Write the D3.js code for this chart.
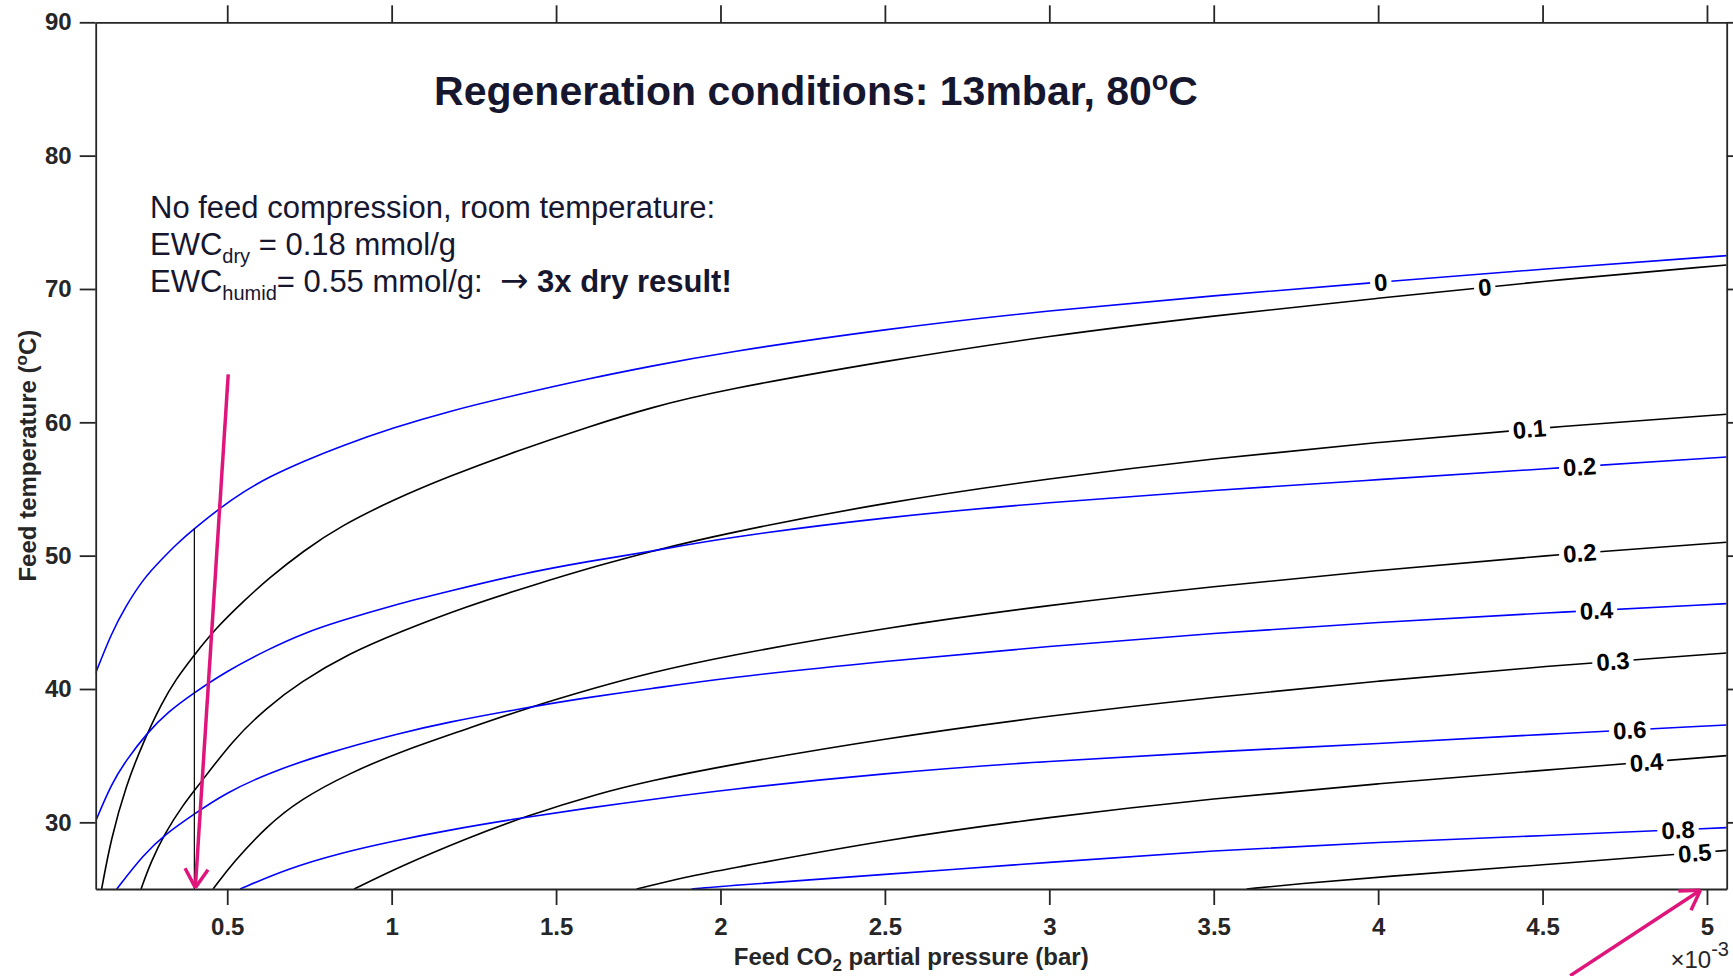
<!DOCTYPE html>
<html lang="en">
  <head>
    <meta charset="utf-8" />
    <script type="text/javascript" src="https://cdn.jsdelivr.net/npm/d3@7"></script>
    <style>
      body { margin: 0; background: #fff; }
      text { font-family: "Liberation Sans", Arial, Helvetica, sans-serif; white-space: pre; }
    </style>
  </head>

  <body>
    <script type="text/javascript">
      let w = 1733;
      let h = 976;

      // axis ranges and ticks (x is in units of 1e-3 bar)
      let xDomain = [0.1, 5.06];
      let yDomain = [25, 90];
      let xTicks = [0.5, 1, 1.5, 2, 2.5, 3, 3.5, 4, 4.5, 5];
      let yTicks = [30, 40, 50, 60, 70, 80, 90];

      // black contours (dry) as [x, T]
      let black0 = [[0.118, 25], [0.146, 28.7], [0.191, 32.7], [0.246, 36.1], [0.3, 38.9], [0.343, 40.7], [0.398, 42.5], [0.463, 44.5], [0.55, 46.6], [0.626, 48.3], [0.734, 50.4], [0.843, 52.2], [1.006, 54.2], [1.169, 55.9], [1.386, 57.9], [1.603, 59.7], [1.786, 61.1], [2.0, 62.4], [2.5, 64.6], [3.0, 66.5], [3.5, 68.0], [4.0, 69.3], [4.5, 70.6], [5.06, 71.8]];
      let black1 = [[0.238, 25], [0.267, 27.0], [0.311, 29.2], [0.365, 31.3], [0.417, 32.9], [0.518, 36.2], [0.62, 38.6], [0.721, 40.5], [0.873, 42.7], [1.026, 44.3], [1.228, 46.2], [1.431, 47.8], [1.634, 49.3], [1.786, 50.3], [2.0, 51.6], [2.5, 54.0], [3.0, 55.8], [3.5, 57.3], [4.0, 58.5], [4.5, 59.6], [5.06, 60.6]];
      let black2 = [[0.457, 25], [0.518, 27.0], [0.62, 29.7], [0.721, 31.7], [0.873, 33.7], [1.026, 35.3], [1.228, 37.0], [1.39, 38.4], [1.634, 40.2], [1.786, 41.2], [2.0, 42.4], [2.5, 44.6], [3.0, 46.3], [3.5, 47.7], [4.0, 48.9], [4.5, 50.0], [5.06, 51.0]];
      let black3 = [[0.886, 25], [1.026, 26.7], [1.228, 28.8], [1.4, 30.4], [1.634, 32.2], [1.786, 33.1], [2.0, 34.2], [2.5, 36.3], [3.0, 38.0], [3.5, 39.4], [4.0, 40.6], [4.5, 41.7], [5.06, 42.7]];
      let black4 = [[1.745, 25], [1.912, 26.0], [2.0, 26.4], [2.5, 28.7], [3.0, 30.4], [3.5, 31.8], [4.0, 32.9], [4.5, 33.9], [5.06, 35.0]];
      let black5 = [[3.6, 25], [3.759, 25.4], [4.0, 25.9], [4.5, 26.8], [5.06, 27.9]];

      // blue contours (humid)
      let blue0 = [[0.1, 41.2], [0.148, 44.2], [0.191, 46.2], [0.246, 48.3], [0.3, 49.7], [0.343, 50.8], [0.398, 52.0], [0.485, 53.7], [0.55, 54.8], [0.626, 55.9], [0.734, 57.1], [0.843, 58.2], [1.006, 59.6], [1.169, 60.8], [1.386, 62.1], [1.603, 63.3], [1.786, 64.2], [2.0, 65.2], [2.5, 67.0], [3.0, 68.4], [3.5, 69.5], [4.0, 70.5], [4.5, 71.5], [5.06, 72.5]];
      let blue2 = [[0.1, 30.1], [0.148, 32.9], [0.191, 34.6], [0.256, 36.7], [0.32, 38.3], [0.398, 39.7], [0.495, 41.3], [0.626, 43.0], [0.734, 44.2], [0.843, 45.1], [1.006, 46.3], [1.169, 47.3], [1.386, 48.6], [1.603, 49.6], [1.786, 50.3], [2.0, 51.3], [2.5, 52.9], [3.0, 54.0], [3.5, 54.9], [4.0, 55.7], [4.5, 56.5], [5.06, 57.4]];
      let blue4 = [[0.164, 25], [0.246, 27.6], [0.311, 29.1], [0.398, 30.6], [0.495, 32.2], [0.626, 33.7], [0.789, 35.1], [1.026, 36.7], [1.169, 37.5], [1.386, 38.5], [1.603, 39.4], [1.786, 40.0], [2.0, 40.8], [2.5, 42.1], [3.0, 43.2], [3.5, 44.2], [4.0, 45.0], [4.5, 45.7], [5.06, 46.4]];
      let blue6 = [[0.539, 25], [0.68, 26.5], [0.843, 27.7], [1.006, 28.6], [1.169, 29.4], [1.386, 30.3], [1.603, 31.1], [1.786, 31.7], [2.0, 32.4], [2.5, 33.7], [3.0, 34.6], [3.5, 35.3], [4.0, 35.9], [4.5, 36.6], [5.06, 37.3]];
      let blue8 = [[1.912, 25], [2.0, 25.2], [2.5, 26.1], [3.0, 27.0], [3.5, 27.9], [4.0, 28.5], [4.5, 29.0], [5.06, 29.6]];

      // contour label texts and where along x they sit
      let blackLevels = ["0", "0.1", "0.2", "0.3", "0.4", "0.5"];
      let blackLabelX = [4.324, 4.46, 4.613, 4.714, 4.816, 4.963];
      let blueLevels = ["0", "0.2", "0.4", "0.6", "0.8"];
      let blueLabelX = [4.008, 4.613, 4.664, 4.765, 4.912];

      // annotations
      let guideX = 0.4;
      let arrowDown = [[0.503, 63.6], [0.403, 25.1]];
      let arrowCorner = [[4.584, 18.5], [4.98, 24.9]];

      let pLeft = 95.7, pRight = 1726.7, pTop = 22.3, pBottom = 889;
      let axisColor = "#262626";
      let textColor = "#16162e";
      let pink = "#e0157b";

      let x = d3.scaleLinear().domain(xDomain).range([pLeft, pRight]);
      let y = d3.scaleLinear().domain(yDomain).range([pBottom, pTop]);

      let svg = d3
        .select("body")
        .append("svg")
        .attr("width", w)
        .attr("height", h);

      let defs = svg.append("defs");
      defs
        .append("clipPath")
        .attr("id", "plotclip")
        .append("rect")
        .attr("x", pLeft)
        .attr("y", pTop)
        .attr("width", pRight - pLeft)
        .attr("height", pBottom - pTop);

      let series = [];
      [black0, black1, black2, black3, black4, black5].forEach((pts, i) => {
        series.push({ pts: pts, color: "#000", label: blackLevels[i], lx: blackLabelX[i] });
      });
      [blue0, blue2, blue4, blue6, blue8].forEach((pts, i) => {
        series.push({ pts: pts, color: "#0000ff", label: blueLevels[i], lx: blueLabelX[i] });
      });

      function interpY(pts, xv) {
        for (let i = 0; i < pts.length - 1; i++) {
          if (xv >= pts[i][0] && xv <= pts[i + 1][0]) {
            let t = (xv - pts[i][0]) / (pts[i + 1][0] - pts[i][0]);
            return pts[i][1] + t * (pts[i + 1][1] - pts[i][1]);
          }
        }
        return pts[pts.length - 1][1];
      }

      // basis spline smooths out the reading noise of the hand-read points
      let line = d3
        .line()
        .x((d) => x(d[0]))
        .y((d) => y(d[1]))
        .curve(d3.curveBasis);

      let plot = svg.append("g").attr("clip-path", "url(#plotclip)");

      plot
        .selectAll("path.contour")
        .data(series)
        .join("path")
        .attr("class", "contour")
        .attr("d", (d) => line(d.pts))
        .attr("fill", "none")
        .attr("stroke", (d) => d.color)
        .attr("stroke-width", 1.6)
        .attr("mask", (d, i) => "url(#gap" + i + ")");

      // thin guide line from the axis up to the humid 0 contour
      plot
        .append("line")
        .attr("x1", x(guideX))
        .attr("x2", x(guideX))
        .attr("y1", y(yDomain[0]))
        .attr("y2", y(interpY(blue0, guideX)))
        .attr("stroke", "#000")
        .attr("stroke-width", 1.2);

      // inline contour labels
      let labels = svg
        .selectAll("text.clabel")
        .data(series)
        .join("text")
        .attr("class", "clabel")
        .text((d) => d.label)
        .attr("text-anchor", "middle")
        .attr("dy", "0.36em")
        .attr("font-size", "24px")
        .attr("font-weight", "bold")
        .attr("fill", "#000")
        .attr("transform", (d) => {
          let px = x(d.lx), py = y(interpY(d.pts, d.lx));
          let a = Math.atan2(y(interpY(d.pts, d.lx + 0.05)) - y(interpY(d.pts, d.lx - 0.05)), x(d.lx + 0.05) - x(d.lx - 0.05));
          d.angle = (a * 180) / Math.PI;
          return "translate(" + px + "," + py + ") rotate(" + d.angle + ")";
        });

      labels.each(function (d) {
        d.len = this.getComputedTextLength();
      });

      series.forEach((d, i) => {
        let m = defs
          .append("mask")
          .attr("id", "gap" + i)
          .attr("maskUnits", "userSpaceOnUse")
          .attr("x", 0)
          .attr("y", 0)
          .attr("width", w)
          .attr("height", h);
        m.append("rect").attr("width", w).attr("height", h).attr("fill", "#fff");
        m.append("rect")
          .attr("x", -(d.len + 8) / 2)
          .attr("y", -10)
          .attr("width", d.len + 8)
          .attr("height", 20)
          .attr("fill", "#000")
          .attr("transform", "translate(" + x(d.lx) + "," + y(interpY(d.pts, d.lx)) + ") rotate(" + d.angle + ")");
      });

      // axes on all four sides, ticks pointing out
      let styleAxis = function (g) {
        g.attr("font-family", null).attr("font-size", null);
        g.selectAll("path.domain").attr("stroke", axisColor).attr("stroke-width", 1.8);
        g.selectAll(".tick line").attr("stroke", axisColor).attr("stroke-width", 1.8);
        g.selectAll(".tick text")
          .attr("fill", axisColor)
          .attr("font-size", "24px")
          .attr("font-weight", "bold");
      };

      svg.append("g")
        .attr("transform", "translate(0," + pBottom + ")")
        .call(d3.axisBottom(x).tickValues(xTicks).tickSize(16).tickPadding(13).tickSizeOuter(0).tickFormat(d3.format("~g")))
        .call(styleAxis);
      svg.append("g")
        .attr("transform", "translate(0," + pTop + ")")
        .call(d3.axisTop(x).tickValues(xTicks).tickSize(17).tickSizeOuter(0).tickFormat(() => ""))
        .call(styleAxis);
      svg.append("g")
        .attr("transform", "translate(" + pLeft + ",0)")
        .call(d3.axisLeft(y).tickValues(yTicks).tickSize(16).tickPadding(8).tickSizeOuter(0))
        .call(styleAxis);
      svg.append("g")
        .attr("transform", "translate(" + pRight + ",0)")
        .call(d3.axisRight(y).tickValues(yTicks).tickSize(16).tickSizeOuter(0).tickFormat(() => ""))
        .call(styleAxis);

      // pink arrows
      let drawArrow = function (pts) {
        let x0 = x(pts[0][0]), y0 = y(pts[0][1]);
        let x1 = x(pts[1][0]), y1 = y(pts[1][1]);
        let back = Math.atan2(y0 - y1, x0 - x1);
        let g = svg.append("g")
          .attr("stroke", pink)
          .attr("stroke-width", 3.5)
          .attr("fill", "none");
        g.append("line").attr("x1", x0).attr("y1", y0).attr("x2", x1).attr("y2", y1);
        [-0.55, 0.55].forEach((da) => {
          g.append("line")
            .attr("x1", x1)
            .attr("y1", y1)
            .attr("x2", x1 + 22 * Math.cos(back + da))
            .attr("y2", y1 + 22 * Math.sin(back + da));
        });
      };
      drawArrow(arrowDown);
      drawArrow(arrowCorner);

      // axis titles
      let xlab = svg.append("text")
        .attr("x", (pLeft + pRight) / 2)
        .attr("y", 965)
        .attr("text-anchor", "middle")
        .attr("font-size", "24px")
        .attr("font-weight", "bold")
        .attr("fill", axisColor);
      xlab.append("tspan").text("Feed CO");
      xlab.append("tspan").attr("font-size", "17px").attr("dy", 6).text("2");
      xlab.append("tspan").attr("dy", -6).text(" partial pressure (bar)");

      let ylab = svg.append("text")
        .attr("transform", "translate(36," + (pTop + pBottom) / 2 + ") rotate(-90)")
        .attr("text-anchor", "middle")
        .attr("font-size", "24px")
        .attr("font-weight", "bold")
        .attr("fill", axisColor);
      ylab.append("tspan").text("Feed temperature (");
      ylab.append("tspan").attr("font-size", "17px").attr("dy", -9).text("o");
      ylab.append("tspan").attr("dy", 9).text("C)");

      let expo = svg.append("text")
        .attr("x", 1729)
        .attr("y", 968)
        .attr("text-anchor", "end")
        .attr("font-size", "24px")
        .attr("fill", axisColor);
      expo.append("tspan").text("×10");
      expo.append("tspan").attr("font-size", "20px").attr("dy", -12).text("-3");

      // title and note
      let title = svg.append("text")
        .attr("x", 816)
        .attr("y", 105)
        .attr("text-anchor", "middle")
        .attr("font-size", "41px")
        .attr("font-weight", "bold")
        .attr("fill", textColor);
      title.append("tspan").text("Regeneration conditions: 13mbar, 80");
      title.append("tspan").attr("font-size", "27px").attr("dy", -15).text("o");
      title.append("tspan").attr("dy", 15).text("C");

      let note = svg.append("g")
        .attr("font-size", "31px")
        .attr("fill", textColor);
      note.append("text").attr("x", 150).attr("y", 218).text("No feed compression, room temperature:");
      let l2 = note.append("text").attr("x", 150).attr("y", 255);
      l2.append("tspan").text("EWC");
      l2.append("tspan").attr("font-size", "20px").attr("dy", 8).text("dry");
      l2.append("tspan").attr("dy", -8).text(" = 0.18 mmol/g");
      let l3 = note.append("text").attr("x", 150).attr("y", 292);
      l3.append("tspan").text("EWC");
      l3.append("tspan").attr("font-size", "20px").attr("dy", 8).text("humid");
      l3.append("tspan").attr("dy", -8).text("= 0.55 mmol/g:  ");
      l3.append("tspan").attr("font-family", "DejaVu Sans").attr("font-size", "34px").text("\u2192");
      l3.append("tspan").text(" ");
      l3.append("tspan").attr("font-weight", "bold").text("3x dry result!");
    </script>
  </body>
</html>
